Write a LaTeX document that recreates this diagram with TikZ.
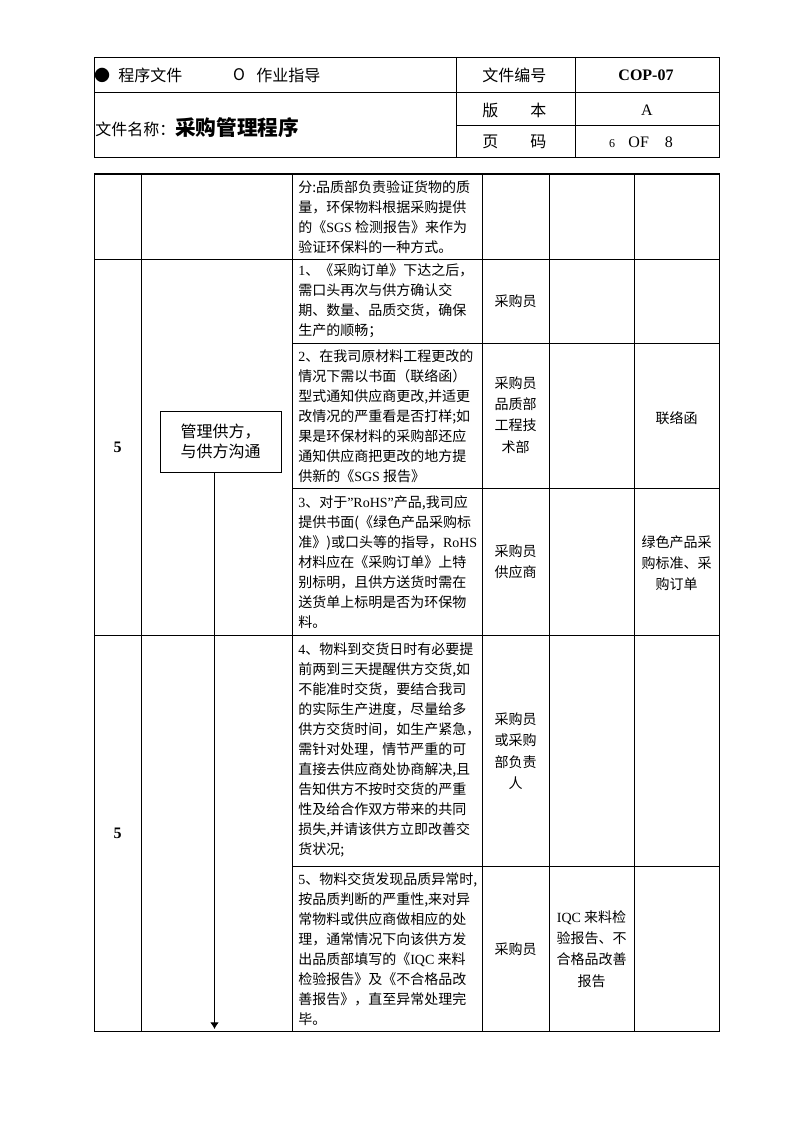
\documentclass[tikz,border=0pt]{standalone}
\usepackage{fontspec}
\setmainfont{Liberation Serif}
\newfontfamily\cjk{Noto Sans CJK SC}
\usetikzlibrary{arrows.meta}
\newcommand{\lat}[1]{{\rmfamily #1}}

\begin{document}
\begin{tikzpicture}[x=0.75pt,y=-0.75pt,
  rule/.style={line width=0.75pt},
  head/.style={font=\cjk\fontsize{12}{15}\selectfont,inner sep=0pt},
  task/.style={font=\cjk\fontsize{10.5}{15}\selectfont,align=left,anchor=west,inner sep=0pt},
  who/.style={font=\cjk\fontsize{10.5}{16}\selectfont,align=center,inner sep=0pt}]
\useasboundingbox (0,0) rectangle (794,1123);

% Header
\draw[rule] (94,58) rectangle (719,158);
\draw[rule] (94,93) -- (719,93);
\draw[rule] (456,126) -- (719,126);
\foreach \x in {456,575} \draw[rule] (\x,58) -- (\x,158);
\node[head] (procdot) at (102,75) {●};
\node[head,anchor=west] (proctxt) at (118,75) {程序文件};
\node[head] (instro) at (239,75) {O};
\node[head,anchor=west] (instrtxt) at (256,75) {作业指导};
\node[head,anchor=west] (docname) at (95,128) {文件名称：{\fontsize{15.5}{18}\selectfont\bfseries 采购管理程序}};
\node[head,anchor=west] (docno) at (482,75) {文件编号};
\node[head,anchor=west] (version) at (482,110) {\makebox[4em][s]{版\hfill 本}};
\node[head,anchor=west] (page) at (482,142) {\makebox[4em][s]{页\hfill 码}};
\node[head,font=\bfseries\fontsize{12}{15}\selectfont] (docnoval) at (646,75) {COP-07};
\node[head,font=\fontsize{12}{15}\selectfont] (versionval) at (647,110) {A};
\node[head,font=\fontsize{12}{15}\selectfont] (pageval) at (641,142) {{\fontsize{9}{9}\selectfont 6}\hspace{10pt}OF\hspace{12pt}8};

% Table
\draw[line width=1.5pt] (94,174) -- (719,174);
\draw[rule] (94,174) rectangle (719,1031);
\foreach \x in {141,292,482,549,634} \draw[rule] (\x,174) -- (\x,1031);
\foreach \y in {259,635} \draw[rule] (94,\y) -- (719,\y);
\foreach \y in {343,488,866} \draw[rule] (292,\y) -- (719,\y);

% Step numbers
\node[font=\bfseries\fontsize{12}{15}\selectfont,inner sep=0pt] (stepA) at (117.5,447) {5};
\node[font=\bfseries\fontsize{12}{15}\selectfont,inner sep=0pt] (stepB) at (117.5,833) {5};

% Flow
\node[draw,rule,head,align=center,minimum width=90.75pt,minimum height=45.75pt] (mgr) at (220.5,441.5) {管理供方，\\与供方沟通};
\coordinate (flowend) at (214.5,1029);
\draw[rule,-{Latex[length=5pt,width=6.5pt]}] (mgr.south -| flowend) -- (flowend);

% Tasks
\node[task] (taskA) at (298,217) {分:品质部负责验证货物的质\\量，环保物料根据采购提供\\的《\lat{SGS} 检测报告》来作为\\验证环保料的一种方式。};
\node[task] (taskB) at (298,301) {\lat{1}、《采购订单》下达之后，\\需口头再次与供方确认交\\期、数量、品质交货，确保\\生产的顺畅；};
\node[task] (taskC) at (298,416) {\lat{2}、在我司原材料工程更改的\\情况下需以书面（联络函）\\型式通知供应商更改,并适更\\改情况的严重看是否打样;如\\果是环保材料的采购部还应\\通知供应商把更改的地方提\\供新的《\lat{SGS} 报告》};
\node[task] (taskD) at (298,562) {\lat{3}、对于\lat{"RoHS"}产品,我司应\\提供书面(《绿色产品采购标\\准》)或口头等的指导，\lat{RoHS}\\材料应在《采购订单》上特\\别标明，且供方送货时需在\\送货单上标明是否为环保物\\料。};
\node[task] (taskE) at (298,750) {\lat{4}、物料到交货日时有必要提\\前两到三天提醒供方交货,如\\不能准时交货，要结合我司\\的实际生产进度，尽量给多\\供方交货时间，如生产紧急，\\需针对处理，情节严重的可\\直接去供应商处协商解决,且\\告知供方不按时交货的严重\\性及给合作双方带来的共同\\损失,并请该供方立即改善交\\货状况;};
\node[task] (taskF) at (298,949) {\lat{5}、物料交货发现品质异常时,\\按品质判断的严重性,来对异\\常物料或供应商做相应的处\\理，通常情况下向该供方发\\出品质部填写的《\lat{IQC} 来料\\检验报告》及《不合格品改\\善报告》，直至异常处理完\\毕。};

% Owners
\node[who] (ownerB) at (515.5,301) {采购员};
\node[who] (ownerC) at (515.5,415) {采购员\\品质部\\工程技\\术部};
\node[who] (ownerD) at (515.5,562) {采购员\\供应商};
\node[who] (ownerE) at (515.5,751) {采购员\\或采购\\部负责\\人};
\node[who] (ownerF) at (515.5,949) {采购员};

% Records
\node[who] (recordF) at (591.5,949) {\lat{IQC} 来料检\\验报告、不\\合格品改善\\报告};
\node[who] (docC) at (676.5,418) {联络函};
\node[who] (docD) at (676.5,563) {绿色产品采\\购标准、采\\购订单};
\end{tikzpicture}
\end{document}
